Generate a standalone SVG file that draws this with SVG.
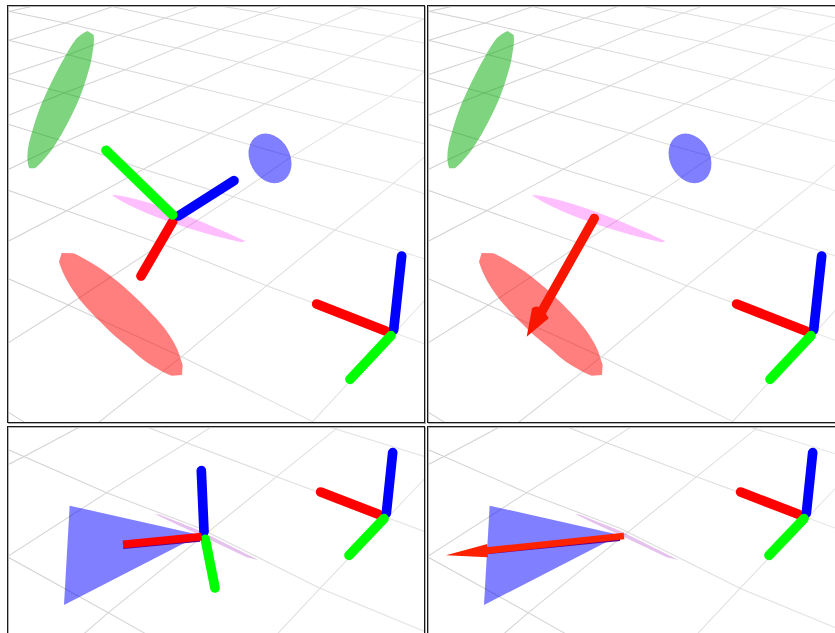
<svg xmlns="http://www.w3.org/2000/svg" width="835" height="633" viewBox="0 0 835 633">
<style>
.grid{fill:none;stroke:url(#gridPaint);stroke-width:3.2}
.ax{fill:none;stroke-width:29;stroke-linecap:round}
.r{stroke:#f00}.g{stroke:#0f0}.b{stroke:#00f}
.frame{fill:none;stroke:#1a1a1a;stroke-width:1}
.shade{fill:none;stroke:#b0b0b0;stroke-width:1}
</style>
<defs>
<linearGradient id="gridPaint" gradientUnits="userSpaceOnUse" x1="22" y1="0" x2="1275" y2="0">
<stop offset="0" stop-color="#d0d0d0"/><stop offset="1" stop-color="#e6e6e6"/>
</linearGradient>
<filter id="soft" x="-5%" y="-5%" width="110%" height="110%"><feGaussianBlur stdDeviation="1.1"/></filter>
<clipPath id="ct"><rect x="22" y="17" width="1252" height="1251"/></clipPath>
<clipPath id="cb"><rect x="22" y="20" width="1252" height="640"/></clipPath>
<g id="topGrid" class="grid" clip-path="url(#ct)">
<path d="M22 725L200 632 430 508 630 400 795 311 935 237 1055 169 1165 109 1275 55"/>
<path d="M22 1030L205 915 700 590 875 470 1035 371 1170 289 1275 215"/>
<path d="M295 1268L545 1070 800 857 1005 690 1180 550 1275 470"/>
<path d="M935 1268L1275 900"/>
<path d="M22 510L195 425 395 337 570 257 720 187 855 127 970 74 1095 17"/>
<path d="M22 347L193 279 375 209 530 144 660 89 790 39 850 17"/>
<path d="M22 225L205 164 355 106 495 54 600 17"/>
<path d="M22 122L195 69 345 17"/>
<path d="M22 35L105 17"/>
<path d="M22 33L195 69 355 106 530 144 720 187 935 237 1170 289 1275 310"/>
<path d="M325 17L495 54 665 89 855 127 1055 169 1275 215"/>
<path d="M22 120L205 164 375 209 570 257 795 311 1035 371 1275 432"/>
<path d="M22 233L193 279 395 337 630 400 875 470 1180 550 1275 582"/>
<path d="M22 372L195 425 430 508 700 590 1005 690 1275 777"/>
<path d="M22 570L200 632 520 745 800 857 1275 1032"/>
<path d="M22 835L205 915 545 1070 945 1268"/>
<path d="M22 1235L75 1268"/>
<path d="M655 17L790 39 970 74 1165 109 1275 130"/>
<path d="M1025 17L1085 24 1275 58"/>
</g>
<g id="topShapes">
<path fill="#0a0" fill-opacity=".5" d="M263 93L281 105C283 125 281 140 278 155C275 175 272 195 265 215C258 240 250 265 240 290C230 315 218 340 205 365C192 390 180 412 165 435C153 452 142 468 130 480C122 490 113 498 105 505L88 505C84 495 82 482 82 470C83 445 88 420 95 400C103 370 114 338 125 310C135 288 145 265 155 245C168 220 181 193 195 170C206 150 218 130 230 115C240 105 252 97 263 93Z"/>
<ellipse fill="#00f" fill-opacity=".5" cx="810" cy="475" rx="60" ry="78" transform="rotate(-28 810 475)"/>
<path fill="#f0f" fill-opacity=".25" d="M335 586L350 586C450 600 600 660 737 724L725 727C600 700 440 650 350 595Z"/>
<path fill="#f00" fill-opacity=".5" d="M185 759L220 760C245 770 300 803 335 830C365 853 395 880 420 905C450 935 470 955 490 980C510 1005 530 1040 535 1055L548 1095L546 1125L515 1127C500 1122 485 1115 470 1105C440 1090 415 1068 390 1045C365 1025 345 1010 320 985C290 955 265 930 240 900C225 880 212 862 200 840C190 820 183 805 177 785Z"/>
</g>
<g id="topCorner">
<path class="ax r" d="M950 912L1157 993"/>
<path class="ax b" d="M1205 768L1181 990"/>
<path class="ax g" d="M1050 1138L1173 1007"/>
</g>
<g id="botGrid" class="grid" clip-path="url(#cb)">
<path d="M22 135L75 108 240 20"/>
<path d="M22 410L320 218 560 68 635 20"/>
<path d="M230 660L325 578 830 170 1010 25"/>
<path d="M815 660L960 505 1275 175"/>
<path d="M22 88L320 218 600 325 960 505 1275 635"/>
<path d="M440 20L560 68 830 170 1275 335"/>
<path d="M985 20L1275 110"/>
<path d="M22 410L325 578 470 660"/>
</g>
<g id="botShapes">
<path fill="#00f" fill-opacity=".5" d="M209 257L600 345 192 555Z"/>
<path fill="#a020c0" fill-opacity=".28" d="M465 282L480 284 600 332 775 420 740 412 600 345 540 318Z"/>
</g>
<g id="botCorner">
<path class="ax r" d="M962 216L1135 283"/>
<path class="ax b" d="M1178 98L1159 280"/>
<path class="ax g" d="M1047 406L1152 296"/>
</g>
</defs>

<g id="panel-top-left" transform="scale(.33333)" filter="url(#soft)">
<use href="#topGrid"/>
<use href="#topShapes"/>
<use href="#topCorner"/>
<g id="axes-top-left">
<path class="ax r" d="M423 828L518 665"/>
<path class="ax b" d="M702 542L535 648"/>
<path class="ax g" d="M318 451L518 645"/>
</g>
</g>

<g id="panel-top-right" transform="translate(420 0) scale(.33333)" filter="url(#soft)">
<use href="#topGrid"/>
<use href="#topShapes"/>
<use href="#topCorner"/>
<g id="arrow-top-right">
<path d="M523 655L362 940" fill="none" stroke="#f81800" stroke-width="28" stroke-linecap="round"/>
<path d="M336 925Q360 905 386 955L320 1010Z" fill="#f81800"/>
</g>
</g>

<g id="panel-bottom-left" transform="translate(0 420) scale(.33333)" filter="url(#soft)">
<use href="#botGrid"/>
<use href="#botShapes"/>
<use href="#botCorner"/>
<g id="axes-bottom-left">
<path d="M370 384L600 362" fill="none" stroke="#600090" stroke-width="6"/>
<path class="ax b" d="M604 152L612 335"/>
<path class="ax g" d="M616 358L645 504"/>
<path d="M369 373L605 350" fill="none" stroke="#f00" stroke-width="23"/>
</g>
</g>

<g id="panel-bottom-right" transform="translate(420 420) scale(.33333)" filter="url(#soft)">
<use href="#botGrid"/>
<use href="#botShapes"/>
<use href="#botCorner"/>
<g id="arrow-bottom-right">
<path d="M205 399L600 360" fill="none" stroke="#600090" stroke-width="6"/>
<path d="M612 348L200 392" fill="none" stroke="#ff2000" stroke-width="20"/>
<path d="M202 372L204 412 78 406Z" fill="#ff2000"/>
</g>
</g>

<g id="frames">
<rect class="shade" x="8.5" y="6.5" width="417" height="417"/>
<rect class="shade" x="428.5" y="6.5" width="417" height="417"/>
<rect class="shade" x="8.5" y="427.5" width="417" height="417"/>
<rect class="shade" x="428.5" y="427.5" width="417" height="417"/>
<rect class="frame" x="7.5" y="5.5" width="417" height="417"/>
<rect class="frame" x="427.5" y="5.5" width="417" height="417"/>
<rect class="frame" x="7.5" y="426.5" width="417" height="417"/>
<rect class="frame" x="427.5" y="426.5" width="417" height="417"/>
</g>
</svg>
